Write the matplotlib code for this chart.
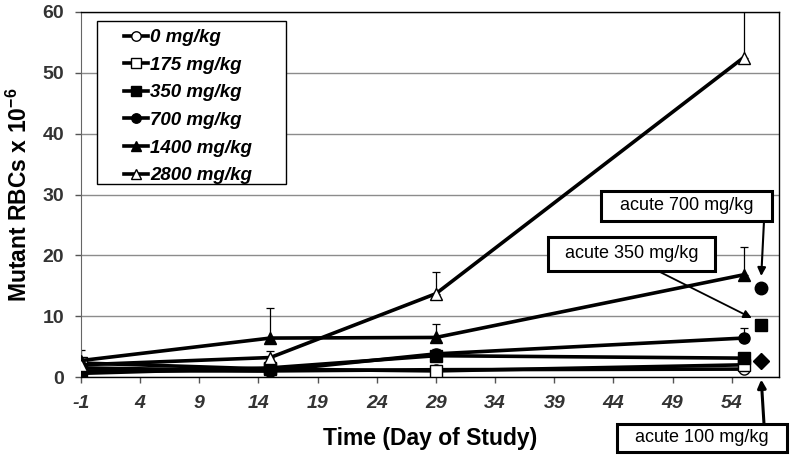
import matplotlib
matplotlib.use("Agg")
import matplotlib.pyplot as plt
from matplotlib.patches import Rectangle
import numpy as np

plt.rcParams['font.family'] = ['Liberation Sans', 'DejaVu Sans']
plt.rcParams['mathtext.fontset'] = 'custom'
plt.rcParams['mathtext.rm'] = 'Liberation Sans'
plt.rcParams['mathtext.bf'] = 'Liberation Sans:bold'

days = [-1, 15, 29, 55]
labels = ["0 mg/kg", "175 mg/kg", "350 mg/kg", "700 mg/kg", "1400 mg/kg", "2800 mg/kg"]
s0 = [1.0, 1.0, 1.2, 1.3]
s175 = [2.3, 1.3, 1.0, 2.0]
s350 = [0.6, 1.5, 3.5, 3.1]
s700 = [1.5, 1.0, 3.8, 6.4]
s1400 = [2.7, 6.4, 6.5, 16.8]
s2800 = [2.0, 3.2, 13.7, 52.5]
e0 = [0.3, 0.3, 0.3, 0.4]
e175 = [0.5, 0.4, 0.4, 0.5]
e350 = [0.4, 0.5, 0.6, 0.6]
e700 = [0.5, 0.5, 0.8, 1.7]
e1400 = [1.7, 4.9, 2.2, 4.5]
e2800 = [1.0, 1.0, 3.6, 9.0]

acute_day = 56.5
acute_labels = ["acute 100 mg/kg", "acute 350 mg/kg", "acute 700 mg/kg"]
acute_vals = [2.7, 8.6, 14.7]
acute_markers = ["D", "s", "o"]

xticks = list(range(-1, 55, 5))
yticks = [0, 10, 20, 30, 40, 50, 60]

series = [s0, s175, s350, s700, s1400, s2800]
errs = [e0, e175, e350, e700, e1400, e2800]
markers = ["o", "s", "s", "o", "^", "^"]
fills = ["white", "white", "black", "black", "black", "white"]

fig = plt.figure(figsize=(8, 4.62), dpi=100)
ax = fig.add_axes([81/800, 1-377/462, 698/800, 365/462])

handles = []
for vals, err, m, fc, lab in zip(series, errs, markers, fills, labels):
    ax.errorbar(days, vals, yerr=[np.zeros(len(err)), err], fmt='none',
                ecolor='black', elinewidth=0.9, capsize=3, capthick=0.9, zorder=2)
    h, = ax.plot(days, vals, color='black', lw=2.6, marker=m, markersize=8,
                 markerfacecolor=fc, markeredgecolor='black', markeredgewidth=1.0,
                 label=lab, zorder=3)
    handles.append(h)

for v, m in zip(acute_vals, acute_markers):
    ax.plot([acute_day], [v], linestyle='none', marker=m, markersize=9 if m != 'D' else 8,
            color='black', zorder=4, clip_on=False)

ax.set_xlim(-1, 58)
ax.set_ylim(0, 60)
ax.set_xticks(xticks)
ax.set_yticks(yticks)
ax.set_xticklabels([str(t) for t in xticks], fontsize=14, fontweight='bold',
                   fontstyle='italic', color='#333333')
ax.set_yticklabels([str(t) for t in yticks], fontsize=14, fontweight='bold', color='#333333')
ax.tick_params(axis='x', direction='out', length=4, width=1, color='#555555', pad=9)
ax.tick_params(axis='y', direction='out', length=4, width=1, color='#555555', pad=8)
ax.grid(axis='y', color='#8c8c8c', lw=1)
ax.set_axisbelow(True)
for sp in ['top', 'right', 'bottom']:
    ax.spines[sp].set_color('black')
    ax.spines[sp].set_linewidth(1)
ax.spines['left'].set_color('#666666')

ax.set_xlabel("Time (Day of Study)", fontsize=16.5, fontweight='bold', labelpad=11)
ax.set_ylabel(r"Mutant RBCs x 10$^{\mathbf{-6}}$", fontsize=16.5, fontweight='bold', labelpad=8)

# legend box drawn separately (reference geometry)
ax.add_patch(Rectangle((97/800, 1-184/462), (286-97)/800, (184-21)/462,
                       transform=fig.transFigure, facecolor='white',
                       edgecolor='black', lw=1.0, zorder=4.5, clip_on=False))
leg = ax.legend(handles=handles, loc='upper left',
                bbox_to_anchor=((124-81)/698, (377-29)/365),
                frameon=False,
                prop={'size': 13.5, 'weight': 'bold', 'style': 'italic'},
                handlelength=1.3, handletextpad=0.1, labelspacing=0.56,
                borderpad=0, borderaxespad=0, markerscale=0.85)
leg.set_zorder(5)

# annotation boxes (pixel geometry of the reference)
boxes = [  # x0, y0(top), x1, y1(bottom) in image pixels
    (617, 424, 787, 452),
    (548, 237, 715, 271),
    (601, 191, 772, 221),
]
for (x0, yt, x1, yb), txt in zip(boxes, acute_labels):
    r = Rectangle((x0/800, 1-yb/462), (x1-x0)/800, (yb-yt)/462, transform=fig.transFigure,
                  facecolor='white', edgecolor='black', lw=2.2, zorder=6)
    fig.patches.append(r)
    fig.text((x0+x1)/1600, 1-(yt+yb)/2/462, txt, ha='center', va='center', fontsize=13, zorder=7)

# arrows
arr = dict(arrowstyle='-|>', color='black', shrinkA=0, shrinkB=0, mutation_scale=12)
ax.annotate('', xy=(acute_day, acute_vals[2] + 1.9), xytext=(764, 462-221),
            textcoords='figure pixels', arrowprops=dict(arr, lw=1.5), annotation_clip=False)
ax.annotate('', xy=(acute_day - 0.8, acute_vals[1] + 1.1), xytext=(660, 462-272),
            textcoords='figure pixels', arrowprops=dict(arr, lw=1.3), annotation_clip=False)
ax.annotate('', xy=(acute_day, -0.4), xytext=(764, 462-424),
            textcoords='figure pixels', arrowprops=dict(arr, lw=2.2), annotation_clip=False)

fig.savefig("out.png", dpi=100)
